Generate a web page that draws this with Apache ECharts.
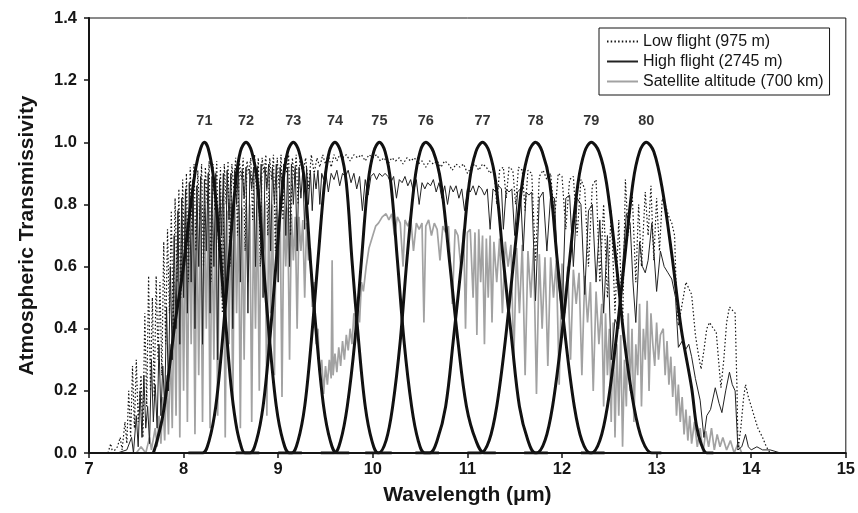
<!DOCTYPE html>
<html><head><meta charset="utf-8">
<script src="https://cdn.jsdelivr.net/npm/echarts@6/dist/echarts.min.js"></script>
<style>html,body{margin:0;padding:0;background:#fff}#c{width:858px;height:513px}</style>
</head><body><div id="c"></div>
<script>
// ---- data ----
const legendNames = ['Low flight (975 m)', 'High flight (2745 m)', 'Satellite altitude (700 km)'];
const filterNames = ['71','72','73','74','75','76','77','78','79','80'];

const filter71 = [[7.68,0],[7.72,0.04],[7.78,0.12],[7.84,0.25],[7.91,0.42],[7.99,0.58],[8.06,0.76],[8.13,0.92],[8.18,0.98],[8.22,1.0],[8.26,0.98],[8.31,0.90],[8.36,0.75],[8.41,0.55],[8.45,0.40],[8.50,0.22],[8.55,0.10],[8.60,0.03],[8.65,0],[8.80,0]];
const filter72 = [[8.05,0],[8.20,0],[8.27,0.04],[8.34,0.15],[8.41,0.36],[8.48,0.62],[8.55,0.87],[8.60,0.97],[8.66,1.0],[8.72,0.97],[8.78,0.87],[8.84,0.62],[8.91,0.36],[8.98,0.15],[9.05,0.04],[9.12,0],[9.25,0]];
const filter73 = [[8.55,0],[8.70,0],[8.77,0.04],[8.84,0.15],[8.91,0.36],[8.98,0.62],[9.05,0.87],[9.10,0.97],[9.16,1.0],[9.22,0.97],[9.28,0.87],[9.34,0.62],[9.41,0.36],[9.48,0.15],[9.55,0.04],[9.62,0],[9.75,0]];
const filter74 = [[9.00,0],[9.14,0],[9.21,0.04],[9.28,0.15],[9.35,0.36],[9.42,0.62],[9.49,0.87],[9.54,0.97],[9.60,1.0],[9.66,0.97],[9.72,0.87],[9.78,0.62],[9.85,0.36],[9.92,0.15],[9.99,0.04],[10.06,0],[10.20,0]];
const filter75 = [[9.45,0],[9.59,0],[9.66,0.04],[9.73,0.15],[9.81,0.36],[9.88,0.62],[9.95,0.87],[10.01,0.97],[10.07,1.0],[10.13,0.97],[10.19,0.87],[10.26,0.62],[10.33,0.36],[10.41,0.15],[10.48,0.04],[10.55,0],[10.70,0]];
const filter76 = [[9.92,0],[10.06,0],[10.14,0.04],[10.21,0.15],[10.29,0.36],[10.36,0.62],[10.44,0.87],[10.50,0.97],[10.56,1.0],[10.64,0.97],[10.72,0.87],[10.81,0.62],[10.90,0.36],[10.99,0.15],[11.09,0.04],[11.18,0],[11.30,0]];
const filter77 = [[10.45,0],[10.60,0],[10.68,0.04],[10.77,0.15],[10.85,0.36],[10.94,0.62],[11.02,0.87],[11.09,0.97],[11.16,1.0],[11.23,0.97],[11.30,0.87],[11.38,0.62],[11.47,0.36],[11.55,0.15],[11.64,0.04],[11.72,0],[11.85,0]];
const filter78 = [[11.00,0],[11.14,0],[11.23,0.04],[11.31,0.15],[11.40,0.36],[11.49,0.62],[11.58,0.87],[11.65,0.97],[11.72,1.0],[11.79,0.97],[11.87,0.87],[11.95,0.62],[12.04,0.36],[12.13,0.15],[12.21,0.04],[12.30,0],[12.45,0]];
const filter79 = [[11.60,0],[11.73,0],[11.82,0.04],[11.90,0.15],[11.99,0.36],[12.08,0.62],[12.17,0.87],[12.24,0.97],[12.31,1.0],[12.39,0.97],[12.47,0.87],[12.57,0.62],[12.66,0.36],[12.76,0.15],[12.85,0.04],[12.95,0],[13.05,0]];
const filter80 = [[12.20,0],[12.31,0],[12.40,0.04],[12.48,0.15],[12.57,0.36],[12.66,0.62],[12.75,0.87],[12.82,0.97],[12.89,1.0],[12.97,0.97],[13.06,0.85],[13.16,0.64],[13.26,0.40],[13.37,0.21],[13.42,0.09],[13.47,0.03],[13.53,0],[13.60,0]];

const satellite = [[7.20,0],[7.50,0],[7.55,0.02],[7.60,0],[7.64,0.05],[7.66,0.01],[7.70,0.08],[7.72,0.02],[7.74,0.12],[7.76,0.03],[7.78,0.18],[7.80,0.04],[7.82,0.25],[7.84,0.06],[7.86,0.35],[7.88,0.08],[7.90,0.55],[7.92,0.12],[7.94,0.70],[7.96,0.05],[7.98,0.75],[8.00,0.20],[8.02,0.78],[8.04,0.10],[8.06,0.79],[8.08,0.35],[8.10,0.80],[8.12,0.06],[8.14,0.78],[8.16,0.25],[8.18,0.80],[8.20,0.10],[8.22,0.79],[8.24,0.40],[8.26,0.80],[8.28,0.08],[8.30,0.77],[8.32,0.30],[8.34,0.80],[8.36,0.12],[8.38,0.79],[8.40,0.50],[8.42,0.80],[8.44,0.05],[8.46,0.78],[8.48,0.35],[8.50,0.80],[8.52,0.15],[8.54,0.81],[8.56,0.45],[8.58,0.80],[8.60,0.08],[8.62,0.79],[8.64,0.30],[8.66,0.81],[8.68,0.55],[8.70,0.80],[8.72,0.10],[8.74,0.79],[8.76,0.40],[8.78,0.81],[8.80,0.20],[8.82,0.80],[8.84,0.60],[8.86,0.81],[8.88,0.12],[8.90,0.80],[8.92,0.45],[8.94,0.80],[8.96,0.25],[8.98,0.79],[9.00,0.55],[9.02,0.80],[9.04,0.18],[9.06,0.78],[9.08,0.60],[9.10,0.79],[9.12,0.30],[9.14,0.77],[9.16,0.62],[9.18,0.76],[9.20,0.40],[9.22,0.76],[9.24,0.65],[9.26,0.75],[9.28,0.50],[9.30,0.74],[9.32,0.62],[9.34,0.66],[9.36,0.47],[9.38,0.55],[9.40,0.35],[9.42,0.40],[9.44,0.25],[9.46,0.30],[9.48,0.19],[9.50,0.28],[9.52,0.22],[9.54,0.30],[9.56,0.24],[9.57,0.62],[9.58,0.25],[9.60,0.32],[9.62,0.26],[9.64,0.34],[9.66,0.28],[9.68,0.36],[9.70,0.30],[9.72,0.38],[9.74,0.33],[9.76,0.40],[9.78,0.35],[9.80,0.45],[9.82,0.40],[9.84,0.48],[9.86,0.42],[9.88,0.55],[9.90,0.52],[9.93,0.60],[9.96,0.66],[10.00,0.70],[10.03,0.73],[10.06,0.74],[10.10,0.76],[10.14,0.77],[10.17,0.75],[10.20,0.77],[10.23,0.70],[10.26,0.76],[10.29,0.74],[10.32,0.60],[10.34,0.75],[10.37,0.73],[10.40,0.76],[10.43,0.65],[10.46,0.74],[10.49,0.72],[10.52,0.74],[10.54,0.42],[10.56,0.73],[10.59,0.75],[10.62,0.70],[10.65,0.74],[10.68,0.72],[10.71,0.62],[10.74,0.73],[10.77,0.71],[10.80,0.73],[10.84,0.48],[10.87,0.72],[10.90,0.70],[10.93,0.60],[10.96,0.72],[10.98,0.40],[11.00,0.71],[11.03,0.72],[11.06,0.50],[11.08,0.71],[11.10,0.38],[11.12,0.72],[11.14,0.55],[11.16,0.70],[11.18,0.35],[11.20,0.69],[11.22,0.50],[11.24,0.70],[11.26,0.42],[11.28,0.68],[11.31,0.55],[11.34,0.69],[11.37,0.45],[11.40,0.68],[11.43,0.60],[11.46,0.67],[11.49,0.30],[11.52,0.66],[11.55,0.45],[11.58,0.67],[11.61,0.25],[11.64,0.65],[11.67,0.50],[11.70,0.66],[11.73,0.19],[11.76,0.64],[11.79,0.40],[11.82,0.63],[11.85,0.28],[11.88,0.63],[11.91,0.50],[11.94,0.62],[11.97,0.22],[12.00,0.61],[12.03,0.45],[12.06,0.60],[12.09,0.30],[12.12,0.59],[12.15,0.48],[12.18,0.58],[12.21,0.25],[12.24,0.57],[12.27,0.42],[12.30,0.55],[12.33,0.20],[12.36,0.52],[12.39,0.35],[12.42,0.48],[12.44,0.15],[12.46,0.45],[12.48,0.25],[12.50,0.40],[12.52,0.10],[12.54,0.42],[12.56,0.05],[12.58,0.35],[12.60,0.12],[12.62,0.38],[12.64,0.02],[12.66,0.30],[12.68,0.15],[12.70,0.45],[12.72,0.20],[12.74,0.40],[12.76,0.10],[12.78,0.35],[12.80,0.25],[12.82,0.48],[12.84,0.15],[12.86,0.40],[12.88,0.30],[12.90,0.49],[12.92,0.20],[12.94,0.45],[12.96,0.35],[12.98,0.28],[13.00,0.42],[13.02,0.30],[13.04,0.38],[13.07,0.40],[13.09,0.25],[13.11,0.36],[13.13,0.22],[13.15,0.31],[13.17,0.18],[13.19,0.28],[13.21,0.12],[13.23,0.22],[13.25,0.10],[13.27,0.18],[13.29,0.06],[13.31,0.14],[13.33,0.04],[13.35,0.12],[13.37,0.03],[13.40,0.10],[13.43,0.02],[13.46,0.08],[13.49,0],[13.52,0.07],[13.55,0.02],[13.58,0.08],[13.61,0.01],[13.64,0.06],[13.67,0.02],[13.70,0.05],[13.74,0.01],[13.78,0.04],[13.82,0],[13.86,0.03],[13.90,0],[14.00,0]];

const lowFlight = [[7.20,0],[7.23,0.03],[7.25,0],[7.30,0.02],[7.33,0.05],[7.35,0.01],[7.38,0.10],[7.40,0.03],[7.42,0.20],[7.44,0.05],[7.46,0.28],[7.48,0.08],[7.50,0.30],[7.52,0.10],[7.55,0.25],[7.57,0.05],[7.59,0.45],[7.61,0.15],[7.63,0.57],[7.65,0.20],[7.67,0.50],[7.69,0.18],[7.71,0.57],[7.73,0.30],[7.75,0.55],[7.77,0.25],[7.79,0.68],[7.81,0.35],[7.83,0.72],[7.85,0.45],[7.87,0.78],[7.89,0.40],[7.91,0.82],[7.93,0.55],[7.95,0.85],[7.97,0.50],[7.99,0.88],[8.01,0.60],[8.03,0.90],[8.05,0.55],[8.07,0.92],[8.09,0.70],[8.11,0.93],[8.13,0.65],[8.15,0.91],[8.17,0.75],[8.19,0.93],[8.21,0.60],[8.23,0.92],[8.25,0.80],[8.27,0.94],[8.29,0.55],[8.31,0.93],[8.33,0.78],[8.35,0.94],[8.37,0.65],[8.39,0.92],[8.41,0.45],[8.43,0.93],[8.45,0.80],[8.47,0.94],[8.49,0.60],[8.51,0.93],[8.53,0.85],[8.55,0.95],[8.57,0.70],[8.59,0.94],[8.61,0.88],[8.63,0.95],[8.65,0.65],[8.67,0.94],[8.69,0.90],[8.71,0.95],[8.73,0.75],[8.75,0.96],[8.77,0.85],[8.79,0.95],[8.81,0.60],[8.83,0.95],[8.85,0.90],[8.87,0.96],[8.89,0.70],[8.91,0.95],[8.93,0.88],[8.95,0.96],[8.97,0.65],[8.99,0.95],[9.01,0.85],[9.03,0.96],[9.05,0.75],[9.07,0.95],[9.09,0.90],[9.11,0.96],[9.13,0.70],[9.15,0.95],[9.17,0.88],[9.19,0.96],[9.21,0.80],[9.23,0.95],[9.26,0.90],[9.29,0.95],[9.32,0.85],[9.35,0.96],[9.38,0.90],[9.41,0.95],[9.44,0.92],[9.47,0.96],[9.50,0.93],[9.53,0.96],[9.56,0.92],[9.59,0.96],[9.62,0.94],[9.65,0.96],[9.68,0.95],[9.72,0.96],[9.76,0.94],[9.80,0.96],[9.84,0.95],[9.88,0.96],[9.92,0.94],[9.96,0.96],[10.00,0.95],[10.04,0.96],[10.08,0.94],[10.12,0.95],[10.16,0.93],[10.20,0.95],[10.24,0.94],[10.28,0.95],[10.32,0.93],[10.36,0.95],[10.40,0.94],[10.44,0.95],[10.48,0.93],[10.52,0.94],[10.56,0.92],[10.60,0.94],[10.64,0.93],[10.68,0.94],[10.72,0.92],[10.76,0.94],[10.80,0.93],[10.84,0.91],[10.88,0.93],[10.92,0.92],[10.96,0.93],[11.00,0.90],[11.04,0.92],[11.08,0.93],[11.12,0.91],[11.16,0.93],[11.20,0.92],[11.24,0.90],[11.28,0.92],[11.31,0.80],[11.34,0.91],[11.38,0.92],[11.41,0.82],[11.44,0.92],[11.48,0.91],[11.51,0.80],[11.54,0.92],[11.58,0.91],[11.61,0.78],[11.64,0.91],[11.68,0.90],[11.72,0.62],[11.76,0.89],[11.80,0.91],[11.84,0.88],[11.88,0.90],[11.92,0.75],[11.96,0.90],[12.00,0.89],[12.04,0.72],[12.08,0.88],[12.12,0.89],[12.16,0.70],[12.20,0.88],[12.24,0.85],[12.28,0.60],[12.32,0.86],[12.36,0.88],[12.40,0.55],[12.44,0.80],[12.48,0.50],[12.52,0.78],[12.56,0.45],[12.60,0.75],[12.64,0.40],[12.67,0.88],[12.70,0.70],[12.74,0.85],[12.78,0.55],[12.81,0.80],[12.84,0.60],[12.88,0.84],[12.91,0.70],[12.94,0.86],[12.97,0.62],[13.00,0.82],[13.03,0.65],[13.06,0.82],[13.09,0.80],[13.13,0.76],[13.16,0.74],[13.19,0.70],[13.21,0.50],[13.23,0.41],[13.27,0.48],[13.31,0.55],[13.34,0.53],[13.37,0.51],[13.41,0.38],[13.44,0.32],[13.47,0.27],[13.50,0.33],[13.53,0.40],[13.56,0.42],[13.60,0.40],[13.63,0.39],[13.66,0.28],[13.68,0.21],[13.71,0.30],[13.74,0.42],[13.77,0.47],[13.80,0.46],[13.83,0.45],[13.85,0.20],[13.86,0.01],[13.89,0.08],[13.92,0.18],[13.94,0.22],[13.97,0.18],[14.00,0.15],[14.04,0.11],[14.07,0.08],[14.12,0.05],[14.16,0.02],[14.20,0]];

const highFlight = [[7.30,0],[7.40,0.01],[7.45,0.05],[7.47,0],[7.50,0.12],[7.52,0.02],[7.54,0.20],[7.56,0.05],[7.58,0.25],[7.60,0.08],[7.62,0.15],[7.64,0.03],[7.66,0.30],[7.68,0.10],[7.70,0.22],[7.72,0.08],[7.74,0.35],[7.76,0.12],[7.78,0.28],[7.80,0.15],[7.82,0.47],[7.84,0.20],[7.86,0.60],[7.88,0.30],[7.90,0.70],[7.92,0.40],[7.94,0.78],[7.96,0.35],[7.98,0.82],[8.00,0.50],[8.02,0.85],[8.04,0.45],[8.06,0.87],[8.08,0.55],[8.10,0.88],[8.12,0.40],[8.14,0.86],[8.16,0.60],[8.18,0.89],[8.20,0.35],[8.22,0.88],[8.24,0.65],[8.26,0.90],[8.28,0.45],[8.30,0.89],[8.32,0.60],[8.34,0.90],[8.36,0.30],[8.38,0.88],[8.40,0.70],[8.42,0.90],[8.44,0.50],[8.46,0.91],[8.48,0.75],[8.50,0.90],[8.52,0.40],[8.54,0.91],[8.56,0.80],[8.58,0.92],[8.60,0.55],[8.62,0.91],[8.64,0.82],[8.66,0.92],[8.68,0.45],[8.70,0.91],[8.72,0.85],[8.74,0.92],[8.76,0.60],[8.78,0.92],[8.80,0.80],[8.82,0.93],[8.84,0.50],[8.86,0.92],[8.88,0.85],[8.90,0.93],[8.92,0.65],[8.94,0.92],[8.96,0.80],[8.98,0.93],[9.00,0.55],[9.02,0.92],[9.04,0.85],[9.06,0.93],[9.08,0.70],[9.10,0.92],[9.12,0.60],[9.14,0.93],[9.16,0.80],[9.18,0.92],[9.20,0.65],[9.22,0.92],[9.24,0.82],[9.26,0.91],[9.28,0.72],[9.30,0.92],[9.32,0.80],[9.34,0.91],[9.36,0.78],[9.38,0.90],[9.40,0.85],[9.42,0.91],[9.44,0.80],[9.46,0.90],[9.48,0.88],[9.50,0.91],[9.53,0.84],[9.56,0.90],[9.59,0.88],[9.62,0.91],[9.65,0.86],[9.68,0.90],[9.71,0.89],[9.74,0.91],[9.77,0.87],[9.80,0.90],[9.83,0.85],[9.86,0.89],[9.89,0.78],[9.92,0.88],[9.95,0.83],[9.98,0.89],[10.01,0.90],[10.04,0.88],[10.07,0.90],[10.10,0.89],[10.13,0.90],[10.16,0.89],[10.19,0.87],[10.22,0.89],[10.25,0.82],[10.28,0.88],[10.31,0.87],[10.34,0.89],[10.37,0.86],[10.40,0.88],[10.43,0.84],[10.46,0.88],[10.49,0.80],[10.52,0.87],[10.55,0.85],[10.58,0.87],[10.61,0.86],[10.64,0.88],[10.67,0.84],[10.70,0.87],[10.73,0.82],[10.76,0.86],[10.79,0.80],[10.82,0.86],[10.85,0.84],[10.88,0.86],[10.91,0.82],[10.94,0.85],[10.97,0.78],[11.00,0.85],[11.03,0.84],[11.06,0.86],[11.09,0.83],[11.12,0.86],[11.15,0.85],[11.18,0.83],[11.21,0.85],[11.24,0.72],[11.27,0.85],[11.30,0.84],[11.33,0.86],[11.36,0.85],[11.38,0.72],[11.41,0.85],[11.44,0.84],[11.47,0.85],[11.50,0.70],[11.53,0.84],[11.56,0.85],[11.59,0.65],[11.62,0.84],[11.65,0.83],[11.68,0.84],[11.72,0.49],[11.76,0.82],[11.80,0.84],[11.84,0.65],[11.88,0.83],[11.92,0.82],[11.96,0.55],[12.00,0.43],[12.04,0.82],[12.08,0.83],[12.12,0.60],[12.16,0.82],[12.20,0.80],[12.24,0.51],[12.28,0.78],[12.32,0.80],[12.36,0.55],[12.40,0.75],[12.44,0.45],[12.48,0.70],[12.52,0.30],[12.56,0.43],[12.60,0.40],[12.64,0.60],[12.68,0.77],[12.72,0.74],[12.75,0.55],[12.78,0.42],[12.82,0.68],[12.85,0.60],[12.88,0.58],[12.91,0.62],[12.95,0.74],[13.00,0.52],[13.04,0.65],[13.08,0.60],[13.12,0.58],[13.16,0.56],[13.20,0.50],[13.23,0.34],[13.27,0.36],[13.30,0.33],[13.34,0.35],[13.37,0.31],[13.41,0.24],[13.46,0.17],[13.50,0.05],[13.53,0.12],[13.57,0.14],[13.62,0.21],[13.66,0.16],[13.69,0.13],[13.73,0.20],[13.77,0.26],[13.80,0.22],[13.83,0.20],[13.86,0.01],[13.90,0.02],[13.94,0.06],[13.97,0.02],[14.00,0.01],[14.06,0.02],[14.12,0.01],[14.20,0.01],[14.31,0]];

// ---- chart ----
const FONT = '"Liberation Sans", Arial, Helvetica, sans-serif';
const INK = '#151515';
const filters = [filter71, filter72, filter73, filter74, filter75, filter76, filter77, filter78, filter79, filter80];

const series = [
  { name: legendNames[2], type: 'line', data: satellite, symbol: 'none', z: 2,
    lineStyle: { color: '#a2a2a2', width: 1.7 }, itemStyle: { color: '#a2a2a2' } },
  { name: legendNames[0], type: 'line', data: lowFlight, symbol: 'none', z: 3,
    lineStyle: { color: INK, width: 1.2, type: [1.5, 2.2] }, itemStyle: { color: INK } },
  { name: legendNames[1], type: 'line', data: highFlight, symbol: 'none', z: 4,
    lineStyle: { color: '#222', width: 1 }, itemStyle: { color: '#222' } }
];
const peaks = [];
filters.forEach((f, i) => {
  let mi = 0;
  f.forEach((p, j) => { if (p[1] > f[mi][1]) mi = j; });
  peaks.push({ value: f[mi], name: filterNames[i] });
  series.push({ type: 'line', data: f, smooth: 0.35, symbol: 'none', z: 5,
    lineStyle: { color: '#111', width: 3 }, itemStyle: { color: '#111' } });
});
series.push({ type: 'scatter', data: peaks, symbolSize: 0, z: 6, silent: true,
  label: { show: true, position: 'top', distance: 14, formatter: p => p.name,
    fontFamily: FONT, fontWeight: 'bold', fontSize: 14.5, color: '#000' } });

const chart = echarts.init(document.getElementById('c'), null, { renderer: 'canvas' });
chart.setOption({
  animation: false,
  backgroundColor: '#fff',
  grid: { left: 89, right: 10, top: 18, bottom: 60, show: true, borderColor: INK, borderWidth: 1, backgroundColor: 'transparent' },
  legend: {
    data: legendNames, orient: 'vertical', left: 599, top: 28,
    borderColor: INK, borderWidth: 1, padding: [5, 6, 5, 7], itemGap: 3,
    itemWidth: 31, itemHeight: 12,
    itemStyle: { opacity: 0 },
    textStyle: { fontFamily: FONT, fontSize: 16, color: INK, lineHeight: 17 }
  },
  xAxis: {
    type: 'value', min: 7, max: 15, interval: 1, z: 10,
    name: 'Wavelength (\u03bcm)', nameLocation: 'middle', nameGap: 32,
    nameTextStyle: { fontFamily: FONT, fontWeight: 'bold', fontSize: 21, color: INK },
    axisLine: { show: true, onZero: false, lineStyle: { color: INK, width: 2 } },
    axisTick: { show: true, inside: false, length: 5, lineStyle: { color: INK, width: 1.5 } },
    axisLabel: { fontFamily: FONT, fontWeight: 'bold', fontSize: 16.5, color: INK, margin: 8 },
    splitLine: { show: false }
  },
  yAxis: {
    type: 'value', min: 0, max: 1.4, interval: 0.2, z: 10,
    name: 'Atmospheric Transmissivity', nameLocation: 'middle', nameGap: 51,
    nameTextStyle: { fontFamily: FONT, fontWeight: 'bold', fontSize: 21, color: INK },
    axisLine: { show: true, lineStyle: { color: INK, width: 2 } },
    axisTick: { show: true, inside: false, length: 5, lineStyle: { color: INK, width: 1.5 } },
    axisLabel: { fontFamily: FONT, fontWeight: 'bold', fontSize: 16.5, color: INK, margin: 12,
      formatter: v => v.toFixed(1) },
    splitLine: { show: false }
  },
  series: series
});
</script>
</body></html>
